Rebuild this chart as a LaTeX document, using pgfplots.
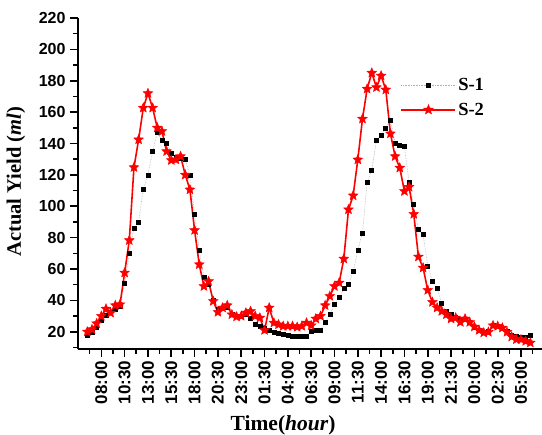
\documentclass[border=0pt]{standalone}
\usepackage{fontspec}
\setmainfont{Liberation Serif}
\newfontfamily\arialf{Liberation Sans}
\usepackage{pgfplots}
\usepackage{pgfplotstable}
\pgfplotsset{compat=1.18}
\usetikzlibrary{plotmarks}

\pgfdeclareplotmark{fstar}{%
  \pgfpathmoveto{\pgfpointpolar{90}{\pgfplotmarksize}}%
  \pgfpathlineto{\pgfpointpolar{126}{0.45\pgfplotmarksize}}%
  \pgfpathlineto{\pgfpointpolar{162}{\pgfplotmarksize}}%
  \pgfpathlineto{\pgfpointpolar{198}{0.45\pgfplotmarksize}}%
  \pgfpathlineto{\pgfpointpolar{234}{\pgfplotmarksize}}%
  \pgfpathlineto{\pgfpointpolar{270}{0.45\pgfplotmarksize}}%
  \pgfpathlineto{\pgfpointpolar{306}{\pgfplotmarksize}}%
  \pgfpathlineto{\pgfpointpolar{342}{0.45\pgfplotmarksize}}%
  \pgfpathlineto{\pgfpointpolar{18}{\pgfplotmarksize}}%
  \pgfpathlineto{\pgfpointpolar{54}{0.45\pgfplotmarksize}}%
  \pgfpathclose
  \pgfusepathqfillstroke}

\pgfplotstableread{
h s1
-1.5 17.6
-1.0 19.8
-0.5 23.0
0.0 27.0
0.5 30.5
1.0 32.5
1.5 34.5
2.0 36.0
2.5 51.0
3.0 70.0
3.5 86.0
4.0 90.0
4.5 111.0
5.0 120.0
5.5 135.0
6.0 147.0
6.5 142.0
7.0 140.0
7.5 134.0
8.0 131.0
8.5 130.5
9.0 130.0
9.5 120.0
10.0 95.0
10.5 72.0
11.0 55.0
11.5 50.0
12.0 40.0
12.5 34.0
13.0 35.0
13.5 35.5
14.0 31.0
14.5 30.0
15.0 30.0
15.5 31.0
16.0 28.5
16.5 24.6
17.0 23.2
17.5 22.0
18.0 21.0
18.5 19.4
19.0 18.7
19.5 18.3
20.0 17.5
20.5 16.8
21.0 16.8
21.5 16.8
22.0 16.8
22.5 20.4
23.0 21.0
23.5 21.0
24.0 26.0
24.5 31.0
25.0 37.5
25.5 41.7
26.0 47.4
26.5 50.1
27.0 58.3
27.5 72.0
28.0 83.0
28.5 115.0
29.0 123.0
29.5 142.0
30.0 145.0
30.5 150.0
31.0 155.0
31.5 140.4
32.0 139.0
32.5 138.0
33.0 115.0
33.5 101.0
34.0 85.0
34.5 82.0
35.0 62.0
35.5 52.0
36.0 48.0
36.5 38.0
37.0 33.0
37.5 31.0
38.0 29.0
38.5 27.8
39.0 28.0
39.5 26.0
40.0 23.0
40.5 21.0
41.0 19.5
41.5 20.0
42.0 24.0
42.5 23.5
43.0 22.5
43.5 20.0
44.0 18.0
44.5 16.8
45.0 16.2
45.5 16.2
46.0 17.6
}\tableSone

\pgfplotstableread{
h s2
-1.5 20.0
-1.0 21.5
-0.5 25.3
0.0 30.0
0.5 34.6
1.0 32.0
1.5 36.8
2.0 37.4
2.5 57.6
3.0 78.3
3.5 124.8
4.0 142.5
4.5 162.7
5.0 172.0
5.5 162.7
6.0 150.0
6.5 147.8
7.0 135.0
7.5 129.3
8.0 129.7
8.5 131.8
9.0 120.0
9.5 110.6
10.0 84.7
10.5 62.9
11.0 49.0
11.5 52.2
12.0 39.5
12.5 32.5
13.0 35.3
13.5 36.8
14.0 31.0
14.5 29.6
15.0 30.0
15.5 32.1
16.0 33.1
16.5 30.0
17.0 28.9
17.5 21.0
18.0 35.3
18.5 25.7
19.0 24.6
19.5 23.6
20.0 23.6
20.5 23.6
21.0 23.0
21.5 23.6
22.0 25.7
22.5 24.0
23.0 28.3
23.5 30.0
24.0 36.8
24.5 42.7
25.0 49.0
25.5 51.2
26.0 66.5
26.5 97.9
27.0 106.8
27.5 129.7
28.0 155.7
28.5 174.8
29.0 185.0
29.5 175.8
30.0 183.2
30.5 174.3
31.0 146.3
31.5 131.8
32.0 124.5
32.5 109.6
33.0 112.3
33.5 95.0
34.0 67.8
34.5 60.8
35.0 46.5
35.5 38.9
36.0 35.3
36.5 33.1
37.0 31.0
37.5 28.3
38.0 28.9
38.5 26.1
39.0 28.3
39.5 26.1
40.0 23.2
40.5 21.0
41.0 19.4
41.5 19.8
42.0 24.0
42.5 23.6
43.0 22.5
43.5 19.8
44.0 16.8
44.5 15.1
45.0 15.1
45.5 14.0
46.0 13.0
}\tableStwo

\begin{document}
\begin{tikzpicture}
\begin{axis}[
  name=ax,
  scale only axis,
  width=464pt, height=331pt,
  xmin=-2.5, xmax=47.25,
  ymin=9, ymax=220,
  axis x line*=bottom, axis y line*=left,
  axis line style={line width=2pt},
  tick align=outside,
  every tick/.style={black, line width=1.6pt},
  major tick length=8pt, minor tick length=4.5pt,
  xtick={0,2.5,...,45},
  xticklabels={08:00,10:30,13:00,15:30,18:00,20:30,23:00,01:30,04:00,06:30,09:00,11:30,14:00,16:30,19:00,21:30,00:00,02:30,05:00},
  minor xtick={-1.25,1.25,3.75,...,46.25},
  ytick={20,40,...,220},
  minor ytick={10,30,...,210},
  /pgf/number format/assume math mode=true,
  yticklabel style={font=\arialf\bfseries\fontsize{16}{16}\selectfont, xshift=-1pt},
  xticklabel style={font=\arialf\bfseries\fontsize{17}{17}\selectfont, rotate=90, anchor=east},
  xlabel={Time(\textit{hour})},
  ylabel={Actual Yield (\textit{ml})},
  xlabel style={font=\bfseries\fontsize{21.5}{22}\selectfont, at={(axis description cs:0.442,-0.23)}, anchor=center},
  ylabel style={font=\bfseries\fontsize{20.5}{21}\selectfont, at={(axis description cs:-0.134,0.505)}, anchor=center},
  legend style={draw=none, fill=none, at={(axis description cs:0.695,0.825)}, anchor=north west,
    font=\bfseries\fontsize{18.5}{19}\selectfont, row sep=7pt, inner sep=0pt},
  legend cell align=left,
  legend image code/.code={\draw[mark repeat=2,mark phase=2,#1] plot coordinates {(0pt,0pt) (27pt,0pt) (54pt,0pt)};},
]
\addplot[gray!60, line width=0.6pt, densely dotted, mark=square*, mark size=2pt, mark options={solid, fill=black, draw=black}] table[x=h, y=s1] {\tableSone};
\addlegendentry{S-1}
\addplot[red, line width=1.6pt, mark=fstar, mark size=5pt, mark options={solid, fill=red, draw=red, line width=0.5pt}] table[x=h, y=s2] {\tableStwo};
\addlegendentry{S-2}
\end{axis}
\pgfresetboundingbox
\path ([xshift=-78pt,yshift=-85pt]ax.south west) rectangle ([yshift=18pt]ax.north east);
\end{tikzpicture}
\end{document}
